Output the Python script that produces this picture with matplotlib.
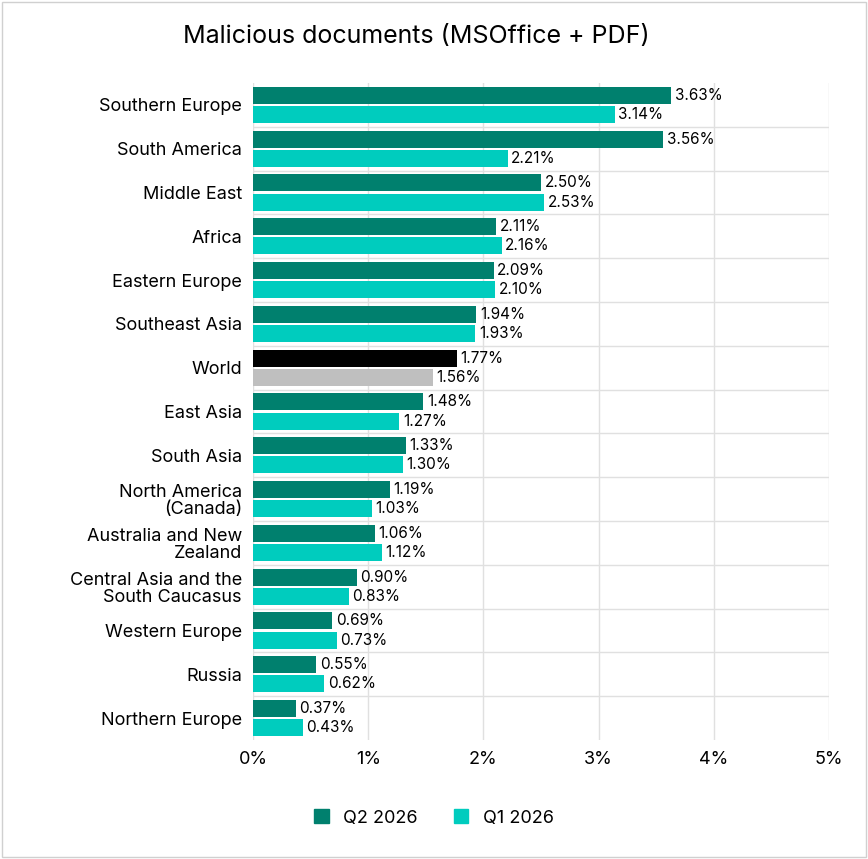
import numpy as np
import matplotlib.pyplot as plt

plt.rcParams['font.family'] = ['Inter', 'DejaVu Sans']

regions = ["Southern Europe", "South America", "Middle East", "Africa", "Eastern Europe",
           "Southeast Asia", "World", "East Asia", "South Asia", "North America\n(Canada)",
           "Australia and New\nZealand", "Central Asia and the\nSouth Caucasus",
           "Western Europe", "Russia", "Northern Europe"]
q2 = [3.63, 3.56, 2.50, 2.11, 2.09, 1.94, 1.77, 1.48, 1.33, 1.19, 1.06, 0.90, 0.69, 0.55, 0.37]
q1 = [3.14, 2.21, 2.53, 2.16, 2.10, 1.93, 1.56, 1.27, 1.30, 1.03, 1.12, 0.83, 0.73, 0.62, 0.43]

c_q2, c_q1 = "#00806E", "#00CCBE"

fig = plt.figure(figsize=(8.68, 8.59), dpi=100)
ax = fig.add_axes([253/868, 1-740/859, 576/868, 657/859])

y = np.arange(len(regions))
h = 0.39
cols2 = ["#000000" if r == "World" else c_q2 for r in regions]
cols1 = ["#BFBFBF" if r == "World" else c_q1 for r in regions]
ax.barh(y - 0.22, q2, height=h, color=cols2, zorder=3)
ax.barh(y + 0.22, q1, height=h, color=cols1, zorder=3)
for yi, a, b in zip(y, q2, q1):
    ax.text(a + 0.03, yi - 0.22, f"{a:.2f}%", va="center", fontsize=11)
    ax.text(b + 0.03, yi + 0.22, f"{b:.2f}%", va="center", fontsize=11)

ax.set_xlim(0, 5)
ax.set_ylim(len(regions) - 0.5, -0.5)
ax.set_xticks(range(6))
ax.set_xticklabels([f"{i}%" for i in range(6)], fontsize=13)
ax.set_yticks(y)
ax.set_yticklabels(regions, fontsize=13, linespacing=1.0)
ax.tick_params(length=0, pad=8)
ax.grid(axis="x", color="#E0E0E0", lw=1, zorder=0)
for yi in y[:-1]:
    ax.axhline(yi + 0.5, color="#E0E0E0", lw=1, zorder=0)
for s in ax.spines.values():
    s.set_visible(False)

fig.text(0.48, 1-37/859, "Malicious documents (MSOffice + PDF)", ha="center", va="center", fontsize=18)
handles = [plt.Rectangle((0, 0), 1, 1, color=c_q2), plt.Rectangle((0, 0), 1, 1, color=c_q1)]
fig.legend(handles, ["Q2 2026", "Q1 2026"], loc="center", bbox_to_anchor=(0.5, 1-818/859),
           ncol=2, frameon=False, fontsize=13, handlelength=0.8, handleheight=0.8, columnspacing=2)
fig.patches.append(plt.Rectangle((0.002, 0.002), 0.996, 0.996, transform=fig.transFigure,
                                 fill=False, edgecolor="#D0D0D0", lw=1))
fig.savefig("out.png", dpi=100)
